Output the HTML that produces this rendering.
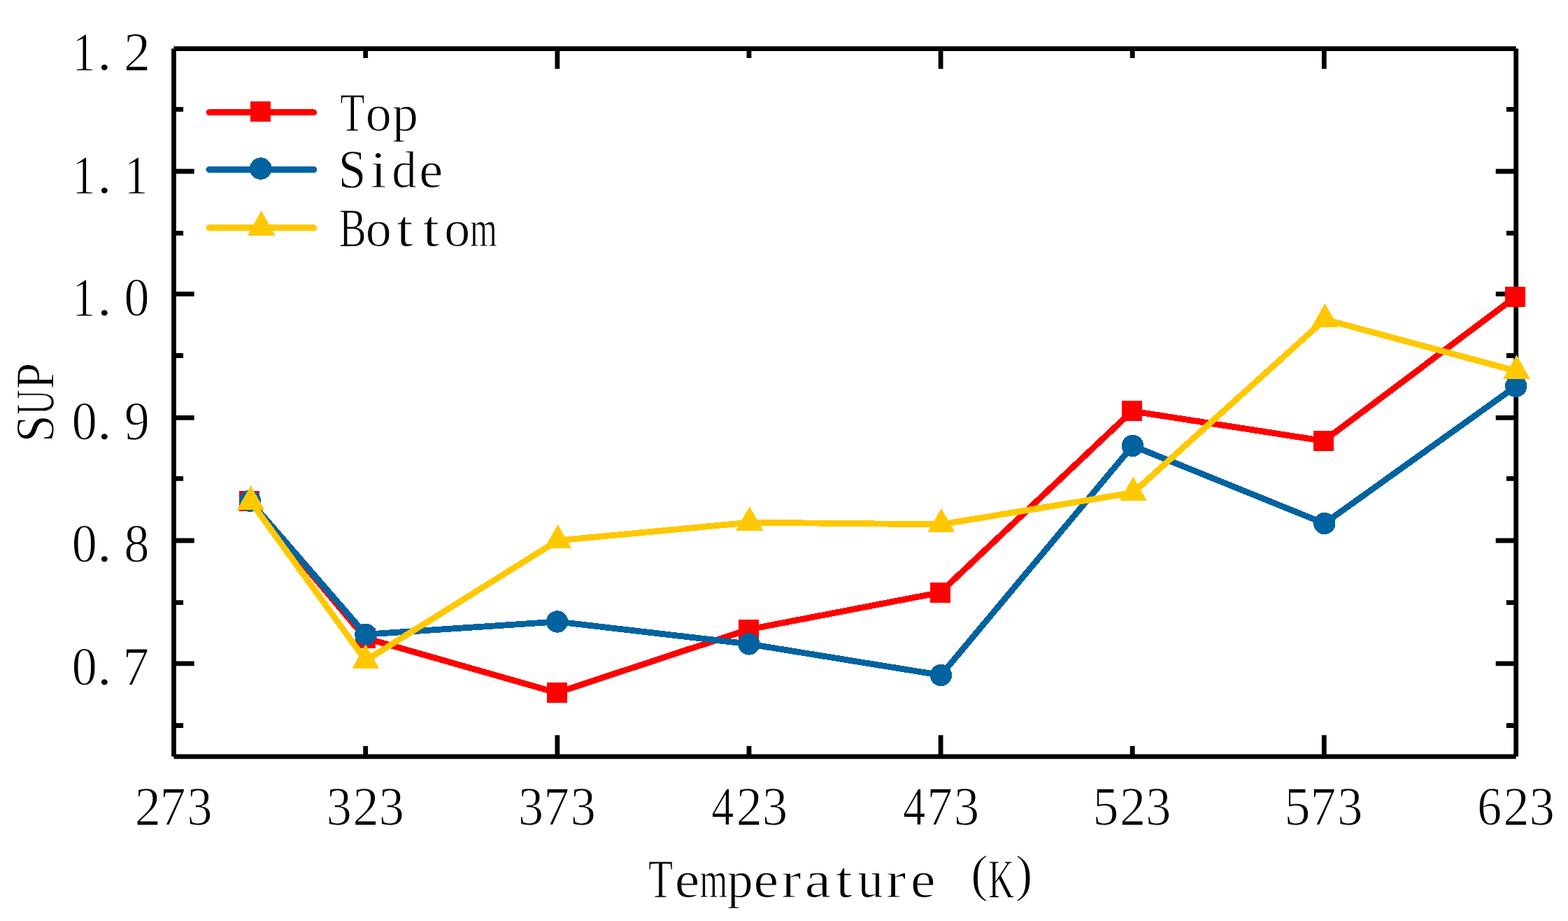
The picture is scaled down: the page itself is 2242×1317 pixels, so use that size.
<!DOCTYPE html><html><head><meta charset="utf-8"><title>SUP vs Temperature</title><style>html,body{margin:0;padding:0;background:#fff;overflow:hidden}svg{display:block}text{font-family:"Liberation Serif","Noto Serif CJK SC",serif;fill:#000;stroke:#fff;stroke-width:1px}</style></head><body>
<svg width="2242" height="1317" viewBox="0 0 2242 1317" font-size="78">
<rect width="2242" height="1317" fill="#fff"/>
<path d="M248.5 69.6V1081.8M248.5 69.6H2167.7M2167.7 69.6V1081.8M248.5 1081.8H2167.7M248.5 245H277.7M2167.7 245H2138.7M248.5 420.3H277.7M2167.7 420.3H2138.7M248.5 597.4H277.7M2167.7 597.4H2138.7M248.5 773H277.7M2167.7 773H2138.7M248.5 948.9H277.7M2167.7 948.9H2138.7M248.5 156.4H262.1M2167.7 156.4H2153.9M248.5 333.4H262.1M2167.7 333.4H2153.9M248.5 508.5H262.1M2167.7 508.5H2153.9M248.5 684.3H262.1M2167.7 684.3H2153.9M248.5 861.7H262.1M2167.7 861.7H2153.9M248.5 1037.5H262.1M2167.7 1037.5H2153.9M522.7 69.6V83M522.7 1081.8V1066.7M796.9 69.6V98.6M796.9 1081.8V1051.2M1071 69.6V83M1071 1081.8V1066.7M1345.1 69.6V98.6M1345.1 1081.8V1051.2M1619.2 69.6V83M1619.2 1081.8V1066.7M1893.3 69.6V98.6M1893.3 1081.8V1051.2" fill="none" stroke="#000" stroke-width="6.8" stroke-linecap="butt"/>
<g shape-rendering="crispEdges">
<path d="M356.6 716.1L522.6 912.5L796.2 990.6L1070.5 900.1L1344.5 847.2L1618.6 587.9L1892.8 630.5L2166.8 424.6" fill="none" stroke="#FF0000" stroke-width="8.8" stroke-linejoin="round"/>
<rect x="342.1" y="701.6" width="29" height="29" fill="#FF0000"/><rect x="508.1" y="898" width="29" height="29" fill="#FF0000"/><rect x="781.7" y="976.1" width="29" height="29" fill="#FF0000"/><rect x="1056" y="885.6" width="29" height="29" fill="#FF0000"/><rect x="1330" y="832.7" width="29" height="29" fill="#FF0000"/><rect x="1604.1" y="573.4" width="29" height="29" fill="#FF0000"/><rect x="1878.3" y="616" width="29" height="29" fill="#FF0000"/><rect x="2152.3" y="410.1" width="29" height="29" fill="#FF0000"/>
<path d="M357.5 716.3L522.8 907.2L796.7 889L1070.9 920.9L1345.4 965.5L1619.5 637.5L1893.7 748.5L2167.7 552.3" fill="none" stroke="#0063A0" stroke-width="8.8" stroke-linejoin="round"/>
<circle cx="357.5" cy="716.3" r="15.7" fill="#0063A0"/><circle cx="522.8" cy="907.2" r="15.7" fill="#0063A0"/><circle cx="796.7" cy="889" r="15.7" fill="#0063A0"/><circle cx="1070.9" cy="920.9" r="15.7" fill="#0063A0"/><circle cx="1345.4" cy="965.5" r="15.7" fill="#0063A0"/><circle cx="1619.5" cy="637.5" r="15.7" fill="#0063A0"/><circle cx="1893.7" cy="748.5" r="15.7" fill="#0063A0"/><circle cx="2167.7" cy="552.3" r="15.7" fill="#0063A0"/>
<path d="M358.5 717.25L522.8 944.45L797.6 772.9L1071.7 747.15L1345.9 749.85L1620.3 704.45L1894.4 456.75L2168.5 530.65" fill="none" stroke="#FFC800" stroke-width="8.8" stroke-linejoin="round"/>
<path d="M358.5 694.25L378 728.75L339 728.75Z" fill="#FFC800"/><path d="M522.8 921.45L542.3 955.95L503.3 955.95Z" fill="#FFC800"/><path d="M797.6 749.9L817.1 784.4L778.1 784.4Z" fill="#FFC800"/><path d="M1071.7 724.15L1091.2 758.65L1052.2 758.65Z" fill="#FFC800"/><path d="M1345.9 726.85L1365.4 761.35L1326.4 761.35Z" fill="#FFC800"/><path d="M1620.3 681.45L1639.8 715.95L1600.8 715.95Z" fill="#FFC800"/><path d="M1894.4 433.75L1913.9 468.25L1874.9 468.25Z" fill="#FFC800"/><path d="M2168.5 507.65L2188 542.15L2149 542.15Z" fill="#FFC800"/>
<path d="M298.8 160.7H448.8" stroke="#FF0000" stroke-width="8.6" stroke-linecap="round"/>
<rect x="357.6" y="144.7" width="29" height="28.8" fill="#FF0000"/>
<path d="M298.8 242.5H448.8" stroke="#0063A0" stroke-width="8.8" stroke-linecap="round"/>
<circle cx="372.8" cy="241.1" r="15.8" fill="#0063A0"/>
<path d="M298.8 325.8H448.8" stroke="#FFC800" stroke-width="8.8" stroke-linecap="round"/>
<path d="M373.6 301.1L393.3 336.7L354 336.7Z" fill="#FFC800"/>
</g>
<text y="100.3"><tspan x="103.26" textLength="33.23" lengthAdjust="spacingAndGlyphs">1</tspan><tspan x="138.82" textLength="21.16" lengthAdjust="spacingAndGlyphs">.</tspan><tspan x="177.01" textLength="38.04" lengthAdjust="spacingAndGlyphs">2</tspan></text>
<text y="275.6"><tspan x="103.26" textLength="33.23" lengthAdjust="spacingAndGlyphs">1</tspan><tspan x="138.82" textLength="21.16" lengthAdjust="spacingAndGlyphs">.</tspan><tspan x="178.06" textLength="33.23" lengthAdjust="spacingAndGlyphs">1</tspan></text>
<text y="450.9"><tspan x="103.26" textLength="33.23" lengthAdjust="spacingAndGlyphs">1</tspan><tspan x="138.82" textLength="21.16" lengthAdjust="spacingAndGlyphs">.</tspan><tspan x="177.61" textLength="35.98" lengthAdjust="spacingAndGlyphs">0</tspan></text>
<text y="627.5"><tspan x="102.81" textLength="35.98" lengthAdjust="spacingAndGlyphs">0</tspan><tspan x="138.82" textLength="21.16" lengthAdjust="spacingAndGlyphs">.</tspan><tspan x="178.05" textLength="35.73" lengthAdjust="spacingAndGlyphs">9</tspan></text>
<text y="803"><tspan x="102.81" textLength="35.98" lengthAdjust="spacingAndGlyphs">0</tspan><tspan x="138.82" textLength="21.16" lengthAdjust="spacingAndGlyphs">.</tspan><tspan x="177.61" textLength="35.98" lengthAdjust="spacingAndGlyphs">8</tspan></text>
<text y="979.3"><tspan x="102.81" textLength="35.98" lengthAdjust="spacingAndGlyphs">0</tspan><tspan x="138.82" textLength="21.16" lengthAdjust="spacingAndGlyphs">.</tspan><tspan x="175.39" textLength="37.63" lengthAdjust="spacingAndGlyphs">7</tspan></text>
<text y="1178.8"><tspan x="192.73" textLength="37.17" lengthAdjust="spacingAndGlyphs">2</tspan><tspan x="228.75" textLength="36.77" lengthAdjust="spacingAndGlyphs">7</tspan><tspan x="267.45" textLength="36.07" lengthAdjust="spacingAndGlyphs">3</tspan></text>
<text y="1178.8"><tspan x="466.75" textLength="36.07" lengthAdjust="spacingAndGlyphs">3</tspan><tspan x="504.53" textLength="37.17" lengthAdjust="spacingAndGlyphs">2</tspan><tspan x="541.65" textLength="36.07" lengthAdjust="spacingAndGlyphs">3</tspan></text>
<text y="1178.8"><tspan x="740.95" textLength="36.07" lengthAdjust="spacingAndGlyphs">3</tspan><tspan x="777.15" textLength="36.77" lengthAdjust="spacingAndGlyphs">7</tspan><tspan x="815.85" textLength="36.07" lengthAdjust="spacingAndGlyphs">3</tspan></text>
<text y="1178.8"><tspan x="1017.25" textLength="32.05" lengthAdjust="spacingAndGlyphs">4</tspan><tspan x="1052.83" textLength="37.17" lengthAdjust="spacingAndGlyphs">2</tspan><tspan x="1089.95" textLength="36.07" lengthAdjust="spacingAndGlyphs">3</tspan></text>
<text y="1178.8"><tspan x="1291.35" textLength="32.05" lengthAdjust="spacingAndGlyphs">4</tspan><tspan x="1325.35" textLength="36.77" lengthAdjust="spacingAndGlyphs">7</tspan><tspan x="1364.05" textLength="36.07" lengthAdjust="spacingAndGlyphs">3</tspan></text>
<text y="1178.8"><tspan x="1562.4" textLength="36.99" lengthAdjust="spacingAndGlyphs">5</tspan><tspan x="1601.03" textLength="37.17" lengthAdjust="spacingAndGlyphs">2</tspan><tspan x="1638.15" textLength="36.07" lengthAdjust="spacingAndGlyphs">3</tspan></text>
<text y="1178.8"><tspan x="1836.5" textLength="36.99" lengthAdjust="spacingAndGlyphs">5</tspan><tspan x="1873.55" textLength="36.77" lengthAdjust="spacingAndGlyphs">7</tspan><tspan x="1912.25" textLength="36.07" lengthAdjust="spacingAndGlyphs">3</tspan></text>
<text y="1178.8"><tspan x="2112.2" textLength="34.87" lengthAdjust="spacingAndGlyphs">6</tspan><tspan x="2149.53" textLength="37.17" lengthAdjust="spacingAndGlyphs">2</tspan><tspan x="2186.65" textLength="36.07" lengthAdjust="spacingAndGlyphs">3</tspan></text>
<text y="1283.4"><tspan x="927.11" textLength="35.09" lengthAdjust="spacingAndGlyphs">T</tspan><tspan x="964.82" font-size="74" textLength="35.62" lengthAdjust="spacingAndGlyphs">e</tspan><tspan x="1000.17" font-size="74" textLength="39.98" lengthAdjust="spacingAndGlyphs">m</tspan><tspan x="1039.87" font-size="74">p</tspan><tspan x="1077.52" font-size="74" textLength="35.62" lengthAdjust="spacingAndGlyphs">e</tspan><tspan x="1117.35" font-size="74" textLength="28.34" lengthAdjust="spacingAndGlyphs">r</tspan><tspan x="1150.6" font-size="74" textLength="37.77" lengthAdjust="spacingAndGlyphs">a</tspan><tspan x="1195.11" font-size="74" textLength="23.64" lengthAdjust="spacingAndGlyphs">t</tspan><tspan x="1226.59" font-size="74" textLength="36.3" lengthAdjust="spacingAndGlyphs">u</tspan><tspan x="1267.05" font-size="74" textLength="28.34" lengthAdjust="spacingAndGlyphs">r</tspan><tspan x="1302.12" font-size="74" textLength="35.62" lengthAdjust="spacingAndGlyphs">e</tspan> <tspan x="1388.18" y="1274.4" font-size="73">(</tspan><tspan x="1413.33" y="1283.4" textLength="36.79" lengthAdjust="spacingAndGlyphs">K</tspan><tspan x="1451.94" y="1274.4" font-size="73">)</tspan></text>
<g transform="translate(76.4 0) rotate(-90)"><text y="0"><tspan x="-632.17" textLength="38.79" lengthAdjust="spacingAndGlyphs">S</tspan><tspan x="-592.98" textLength="35.57" lengthAdjust="spacingAndGlyphs">U</tspan><tspan x="-556.59" textLength="37.55" lengthAdjust="spacingAndGlyphs">P</tspan></text></g>
<text y="187.4"><tspan x="486.16" textLength="35.2" lengthAdjust="spacingAndGlyphs">T</tspan><tspan x="522.65" font-size="74">o</tspan><tspan x="561.04" font-size="74">p</tspan></text>
<text y="268"><tspan x="483.84" textLength="39.57" lengthAdjust="spacingAndGlyphs">S</tspan><tspan x="529.45" font-size="74" textLength="23.64" lengthAdjust="spacingAndGlyphs">i</tspan><tspan x="560.22" font-size="74" textLength="35.65" lengthAdjust="spacingAndGlyphs">d</tspan><tspan x="599.25" font-size="74" textLength="34.06" lengthAdjust="spacingAndGlyphs">e</tspan></text>
<text y="351.9"><tspan x="484.86" textLength="39.04" lengthAdjust="spacingAndGlyphs">B</tspan><tspan x="522.65" font-size="74">o</tspan><tspan x="566.91" font-size="74" textLength="23.64" lengthAdjust="spacingAndGlyphs">t</tspan><tspan x="604.46" font-size="74" textLength="23.64" lengthAdjust="spacingAndGlyphs">t</tspan><tspan x="635.3" font-size="74">o</tspan><tspan x="672" font-size="74" textLength="38.83" lengthAdjust="spacingAndGlyphs">m</tspan></text>
</svg></body></html>
